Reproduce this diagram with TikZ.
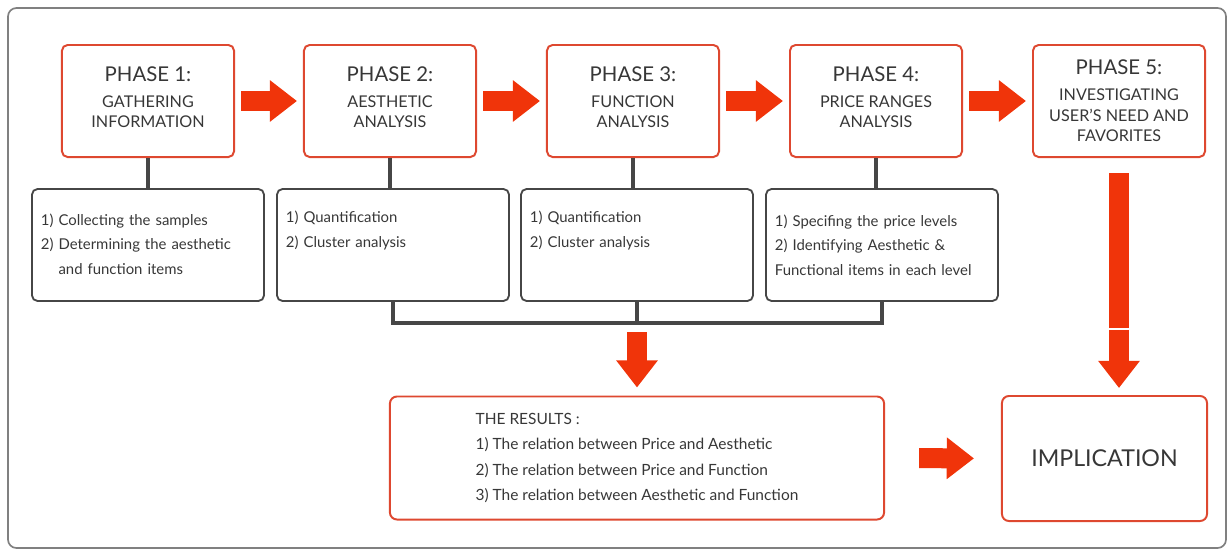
\documentclass[tikz,border=0pt]{standalone}
\usepackage{fontspec}
\setmainfont{Lato}
\usetikzlibrary{arrows.meta,positioning}
\definecolor{boxred}{RGB}{222,72,48}
\definecolor{arrowred}{RGB}{240,52,10}
\definecolor{linegray}{RGB}{70,70,70}
\definecolor{textgray}{RGB}{55,55,55}

\begin{document}
\begin{tikzpicture}
  [x=0.025cm,y=-0.025cm,
   phase/.style={draw=boxred,line width=1.4pt,rounded corners=4pt,minimum width=4.3cm,minimum height=2.8cm,inner sep=0pt,align=center,text=textgray,font=\fontsize{11.5}{14.5}\selectfont},
   detail/.style={draw=linegray,line width=1.3pt,rounded corners=4pt,minimum width=5.8cm,minimum height=2.8cm,inner sep=0pt,text width=5.35cm,align=left,text=textgray,font=\fontsize{10.6}{17.5}\selectfont},
   result/.style={draw=boxred,line width=1.4pt,rounded corners=5pt,inner sep=0pt,text=textgray},
   link/.style={draw=linegray,line width=2.2pt},
   fat/.style={arrowred,line width=0.5cm,-{Triangle[length=0.68cm,width=1cm]}}]
  \useasboundingbox (0,0) rectangle (1232,553);
  \draw[draw=gray,line width=1.2pt,rounded corners=6pt] (8,8) rectangle (1226,548);

  % phases
  \newcommand{\phtitle}[1]{{\fontsize{14.5}{17}\selectfont PHASE #1:}\\[4pt]}
  \node[phase] (p1) at (148,101) {\phtitle{1}GATHERING\\INFORMATION\\[-13pt]\strut};
  \node[phase] (p2) at (390,101) {\phtitle{2}AESTHETIC\\ANALYSIS\\[-13pt]\strut};
  \node[phase] (p3) at (633,101) {\phtitle{3}FUNCTION\\ANALYSIS\\[-13pt]\strut};
  \node[phase] (p4) at (876,101) {\phtitle{4}PRICE RANGES\\ANALYSIS\\[-13pt]\strut};
  \node[phase] (p5) at (1119,101) {\phtitle{5}INVESTIGATING\\USER'S NEED AND\\FAVORITES};

  % details
  \node[detail] (d1) at (148,245) {1) Collecting the samples\\2) Determining the aesthetic\\\phantom{2) }and function items};
  \node[detail] (d2) at (393,245) {1) Quantification\\2) Cluster analysis\\\strut};
  \node[detail] (d3) at (637,245) {1) Quantification\\2) Cluster analysis\\\strut};
  \node[detail] (d4) at (882,245) {1) Specifing the price levels\\2) Identifying Aesthetic \&\\Functional items in each level};

  % results
  \node[result,minimum width=12.35cm,minimum height=3.075cm,align=left,font=\fontsize{11}{18}\selectfont] (res) at (637,458)
    {THE RESULTS :\\1) The relation between Price and Aesthetic\\2) The relation between Price and Function\\3) The relation between Aesthetic and Function};
  \node[result,minimum width=5.125cm,minimum height=3.125cm,font=\fontsize{16.5}{18}\selectfont] (imp) at (1104.5,458.5) {IMPLICATION};

  \coordinate (br) at (637,323);

  \foreach \from/\to in {p1/d1,p2/d2,p3/d3,p4/d4}
    \draw[link] (\from.south) -- (\from.south |- \to.north);
  \draw[link] (d2.south) -- (d2.south |- br) -| (d4.south);
  \draw[link] (d3.south) -- (br);

  \foreach \from/\to in {p1/p2,p2/p3,p3/p4,p4/p5}
    \draw[fat,shorten <=0.15cm,shorten >=0.15cm] (\from.east) -- (\to.west);
  \draw[fat,shorten <=0.225cm,shorten >=0.2cm] (br) -- (res.north);
  \draw[fat,shorten <=0.85cm,shorten >=0.675cm] (res.east) -- (imp.west);
  \draw[fat,shorten <=0.375cm,shorten >=0.175cm] (p5.south) -- (p5.south |- imp.north);
  \draw[white,line width=1.5pt] (1100,329) -- (1136,329);
\end{tikzpicture}
\end{document}
